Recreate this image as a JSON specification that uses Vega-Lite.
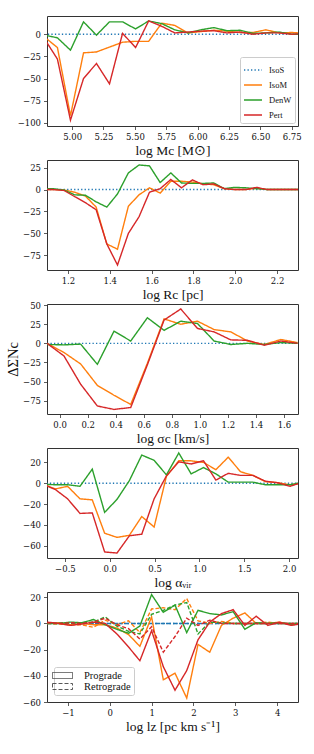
{
"$schema": "https://vega.github.io/schema/vega-lite/v6.json",
"padding": {"left": 5, "top": 15, "right": 5, "bottom": 5},
"background": "white",
"config": {
 "view": {"stroke": "#333333", "strokeWidth": 1},
 "axis": {"grid": false, "domain": false, "tickSize": 3.5, "tickWidth": 0.8, "tickColor": "#333333", "labelFont": "DejaVu Serif", "labelFontSize": 8.5, "labelColor": "#111111", "labelPadding": 3, "labelFlush": false, "labelOverlap": false, "titleFont": "Liberation Serif", "titleFontSize": 13.5, "titleFontWeight": "normal", "titleColor": "#111111", "titlePadding": 2}
},
"datasets": {"d": [
{"p":1,"m":"IsoS","x":4.779,"y":0},{"p":1,"m":"IsoS","x":6.857,"y":0},
{"p":1,"m":"IsoM","x":4.779,"y":-3},{"p":1,"m":"IsoM","x":4.883,"y":-15},{"p":1,"m":"IsoM","x":4.987,"y":-92},{"p":1,"m":"IsoM","x":5.091,"y":-21},{"p":1,"m":"IsoM","x":5.194,"y":-20},{"p":1,"m":"IsoM","x":5.298,"y":-14.5},{"p":1,"m":"IsoM","x":5.402,"y":-9},{"p":1,"m":"IsoM","x":5.506,"y":-8},{"p":1,"m":"IsoM","x":5.61,"y":-8},{"p":1,"m":"IsoM","x":5.714,"y":12.5},{"p":1,"m":"IsoM","x":5.818,"y":10},{"p":1,"m":"IsoM","x":5.922,"y":1.5},{"p":1,"m":"IsoM","x":6.026,"y":3},{"p":1,"m":"IsoM","x":6.13,"y":4.5},{"p":1,"m":"IsoM","x":6.233,"y":3.5},{"p":1,"m":"IsoM","x":6.337,"y":2},{"p":1,"m":"IsoM","x":6.441,"y":2},{"p":1,"m":"IsoM","x":6.545,"y":5},{"p":1,"m":"IsoM","x":6.649,"y":1.5},{"p":1,"m":"IsoM","x":6.753,"y":2},{"p":1,"m":"IsoM","x":6.857,"y":1},
{"p":1,"m":"DenW","x":4.779,"y":-1},{"p":1,"m":"DenW","x":4.883,"y":-4},{"p":1,"m":"DenW","x":4.987,"y":-18},{"p":1,"m":"DenW","x":5.091,"y":14},{"p":1,"m":"DenW","x":5.194,"y":-1},{"p":1,"m":"DenW","x":5.298,"y":14},{"p":1,"m":"DenW","x":5.402,"y":14},{"p":1,"m":"DenW","x":5.506,"y":6},{"p":1,"m":"DenW","x":5.61,"y":15},{"p":1,"m":"DenW","x":5.714,"y":12},{"p":1,"m":"DenW","x":5.818,"y":5},{"p":1,"m":"DenW","x":5.922,"y":1.5},{"p":1,"m":"DenW","x":6.026,"y":5},{"p":1,"m":"DenW","x":6.13,"y":7.5},{"p":1,"m":"DenW","x":6.233,"y":4},{"p":1,"m":"DenW","x":6.337,"y":4.5},{"p":1,"m":"DenW","x":6.441,"y":1},{"p":1,"m":"DenW","x":6.545,"y":1.5},{"p":1,"m":"DenW","x":6.649,"y":2.5},{"p":1,"m":"DenW","x":6.753,"y":0},{"p":1,"m":"DenW","x":6.857,"y":0},
{"p":1,"m":"Pert","x":4.779,"y":-5},{"p":1,"m":"Pert","x":4.883,"y":-28},{"p":1,"m":"Pert","x":4.987,"y":-97},{"p":1,"m":"Pert","x":5.091,"y":-50},{"p":1,"m":"Pert","x":5.194,"y":-33},{"p":1,"m":"Pert","x":5.298,"y":-56},{"p":1,"m":"Pert","x":5.402,"y":1},{"p":1,"m":"Pert","x":5.506,"y":-15},{"p":1,"m":"Pert","x":5.61,"y":15},{"p":1,"m":"Pert","x":5.714,"y":9},{"p":1,"m":"Pert","x":5.818,"y":1.5},{"p":1,"m":"Pert","x":5.922,"y":2.5},{"p":1,"m":"Pert","x":6.026,"y":3.5},{"p":1,"m":"Pert","x":6.13,"y":4},{"p":1,"m":"Pert","x":6.233,"y":1.5},{"p":1,"m":"Pert","x":6.337,"y":2.5},{"p":1,"m":"Pert","x":6.441,"y":0},{"p":1,"m":"Pert","x":6.545,"y":1.5},{"p":1,"m":"Pert","x":6.649,"y":1.5},{"p":1,"m":"Pert","x":6.753,"y":0},{"p":1,"m":"Pert","x":6.857,"y":1},
{"p":2,"m":"IsoS","x":1.079,"y":0},{"p":2,"m":"IsoS","x":2.305,"y":0},
{"p":2,"m":"IsoM","x":1.079,"y":0},{"p":2,"m":"IsoM","x":1.13,"y":0},{"p":2,"m":"IsoM","x":1.181,"y":-0.5},{"p":2,"m":"IsoM","x":1.232,"y":-3},{"p":2,"m":"IsoM","x":1.284,"y":-7.5},{"p":2,"m":"IsoM","x":1.335,"y":-20},{"p":2,"m":"IsoM","x":1.386,"y":-62},{"p":2,"m":"IsoM","x":1.437,"y":-68},{"p":2,"m":"IsoM","x":1.489,"y":-19},{"p":2,"m":"IsoM","x":1.54,"y":-6},{"p":2,"m":"IsoM","x":1.59,"y":2},{"p":2,"m":"IsoM","x":1.641,"y":-4},{"p":2,"m":"IsoM","x":1.692,"y":9.5},{"p":2,"m":"IsoM","x":1.743,"y":9.5},{"p":2,"m":"IsoM","x":1.795,"y":8.5},{"p":2,"m":"IsoM","x":1.846,"y":6.5},{"p":2,"m":"IsoM","x":1.897,"y":5.5},{"p":2,"m":"IsoM","x":1.948,"y":1},{"p":2,"m":"IsoM","x":1.998,"y":0},{"p":2,"m":"IsoM","x":2.051,"y":0},{"p":2,"m":"IsoM","x":2.102,"y":1.5},{"p":2,"m":"IsoM","x":2.152,"y":0},{"p":2,"m":"IsoM","x":2.203,"y":0},{"p":2,"m":"IsoM","x":2.254,"y":0},{"p":2,"m":"IsoM","x":2.305,"y":0},
{"p":2,"m":"DenW","x":1.079,"y":1},{"p":2,"m":"DenW","x":1.13,"y":1},{"p":2,"m":"DenW","x":1.181,"y":-0.5},{"p":2,"m":"DenW","x":1.232,"y":-6},{"p":2,"m":"DenW","x":1.284,"y":-6.5},{"p":2,"m":"DenW","x":1.335,"y":-14},{"p":2,"m":"DenW","x":1.386,"y":-20},{"p":2,"m":"DenW","x":1.437,"y":-5},{"p":2,"m":"DenW","x":1.489,"y":19},{"p":2,"m":"DenW","x":1.54,"y":28},{"p":2,"m":"DenW","x":1.59,"y":27},{"p":2,"m":"DenW","x":1.641,"y":8},{"p":2,"m":"DenW","x":1.692,"y":19},{"p":2,"m":"DenW","x":1.743,"y":7.5},{"p":2,"m":"DenW","x":1.795,"y":7},{"p":2,"m":"DenW","x":1.846,"y":7},{"p":2,"m":"DenW","x":1.897,"y":7.5},{"p":2,"m":"DenW","x":1.948,"y":1},{"p":2,"m":"DenW","x":1.998,"y":2.5},{"p":2,"m":"DenW","x":2.051,"y":2},{"p":2,"m":"DenW","x":2.102,"y":1},{"p":2,"m":"DenW","x":2.152,"y":0},{"p":2,"m":"DenW","x":2.203,"y":0},{"p":2,"m":"DenW","x":2.254,"y":0},{"p":2,"m":"DenW","x":2.305,"y":0},
{"p":2,"m":"Pert","x":1.079,"y":0},{"p":2,"m":"Pert","x":1.13,"y":0},{"p":2,"m":"Pert","x":1.181,"y":-1},{"p":2,"m":"Pert","x":1.232,"y":-8},{"p":2,"m":"Pert","x":1.284,"y":-15},{"p":2,"m":"Pert","x":1.335,"y":-23},{"p":2,"m":"Pert","x":1.386,"y":-62},{"p":2,"m":"Pert","x":1.437,"y":-86},{"p":2,"m":"Pert","x":1.489,"y":-50},{"p":2,"m":"Pert","x":1.54,"y":-31},{"p":2,"m":"Pert","x":1.59,"y":-3},{"p":2,"m":"Pert","x":1.641,"y":1},{"p":2,"m":"Pert","x":1.692,"y":11.5},{"p":2,"m":"Pert","x":1.743,"y":2},{"p":2,"m":"Pert","x":1.795,"y":11},{"p":2,"m":"Pert","x":1.846,"y":5.5},{"p":2,"m":"Pert","x":1.897,"y":6.5},{"p":2,"m":"Pert","x":1.948,"y":1},{"p":2,"m":"Pert","x":1.998,"y":0},{"p":2,"m":"Pert","x":2.051,"y":0},{"p":2,"m":"Pert","x":2.102,"y":2.5},{"p":2,"m":"Pert","x":2.152,"y":0},{"p":2,"m":"Pert","x":2.203,"y":0},{"p":2,"m":"Pert","x":2.254,"y":0},{"p":2,"m":"Pert","x":2.305,"y":0},
{"p":3,"m":"IsoS","x":-0.09,"y":0},{"p":3,"m":"IsoS","x":1.697,"y":0},
{"p":3,"m":"IsoM","x":-0.09,"y":0},{"p":3,"m":"IsoM","x":0.031,"y":-12},{"p":3,"m":"IsoM","x":0.15,"y":-27},{"p":3,"m":"IsoM","x":0.269,"y":-55},{"p":3,"m":"IsoM","x":0.388,"y":-68},{"p":3,"m":"IsoM","x":0.507,"y":-80},{"p":3,"m":"IsoM","x":0.626,"y":-26},{"p":3,"m":"IsoM","x":0.745,"y":32},{"p":3,"m":"IsoM","x":0.864,"y":25},{"p":3,"m":"IsoM","x":0.983,"y":29},{"p":3,"m":"IsoM","x":1.102,"y":18},{"p":3,"m":"IsoM","x":1.221,"y":15},{"p":3,"m":"IsoM","x":1.34,"y":3},{"p":3,"m":"IsoM","x":1.459,"y":-1.5},{"p":3,"m":"IsoM","x":1.578,"y":5},{"p":3,"m":"IsoM","x":1.697,"y":1},
{"p":3,"m":"DenW","x":-0.09,"y":-1.5},{"p":3,"m":"DenW","x":0.031,"y":-2},{"p":3,"m":"DenW","x":0.15,"y":-1},{"p":3,"m":"DenW","x":0.269,"y":-27.5},{"p":3,"m":"DenW","x":0.388,"y":16},{"p":3,"m":"DenW","x":0.507,"y":3},{"p":3,"m":"DenW","x":0.626,"y":33.5},{"p":3,"m":"DenW","x":0.745,"y":17},{"p":3,"m":"DenW","x":0.864,"y":29},{"p":3,"m":"DenW","x":0.983,"y":26},{"p":3,"m":"DenW","x":1.102,"y":3},{"p":3,"m":"DenW","x":1.221,"y":-1.5},{"p":3,"m":"DenW","x":1.34,"y":0},{"p":3,"m":"DenW","x":1.459,"y":-1.5},{"p":3,"m":"DenW","x":1.578,"y":1},{"p":3,"m":"DenW","x":1.697,"y":0},
{"p":3,"m":"Pert","x":-0.09,"y":0},{"p":3,"m":"Pert","x":0.031,"y":-16.5},{"p":3,"m":"Pert","x":0.15,"y":-53.5},{"p":3,"m":"Pert","x":0.269,"y":-82},{"p":3,"m":"Pert","x":0.388,"y":-86.5},{"p":3,"m":"Pert","x":0.507,"y":-84},{"p":3,"m":"Pert","x":0.626,"y":-28},{"p":3,"m":"Pert","x":0.745,"y":30.5},{"p":3,"m":"Pert","x":0.864,"y":45},{"p":3,"m":"Pert","x":0.983,"y":19.5},{"p":3,"m":"Pert","x":1.102,"y":15},{"p":3,"m":"Pert","x":1.221,"y":4.5},{"p":3,"m":"Pert","x":1.34,"y":4},{"p":3,"m":"Pert","x":1.459,"y":-2.5},{"p":3,"m":"Pert","x":1.578,"y":3},{"p":3,"m":"Pert","x":1.697,"y":0},
{"p":4,"m":"IsoS","x":-0.746,"y":0},{"p":4,"m":"IsoS","x":2.149,"y":0},
{"p":4,"m":"IsoM","x":-0.746,"y":-1},{"p":4,"m":"IsoM","x":-0.608,"y":-5.5},{"p":4,"m":"IsoM","x":-0.47,"y":-3},{"p":4,"m":"IsoM","x":-0.332,"y":-15},{"p":4,"m":"IsoM","x":-0.195,"y":-16},{"p":4,"m":"IsoM","x":-0.057,"y":-48},{"p":4,"m":"IsoM","x":0.081,"y":-52},{"p":4,"m":"IsoM","x":0.219,"y":-50},{"p":4,"m":"IsoM","x":0.357,"y":-32},{"p":4,"m":"IsoM","x":0.495,"y":-42},{"p":4,"m":"IsoM","x":0.632,"y":6.5},{"p":4,"m":"IsoM","x":0.77,"y":21.5},{"p":4,"m":"IsoM","x":0.908,"y":21.5},{"p":4,"m":"IsoM","x":1.046,"y":20},{"p":4,"m":"IsoM","x":1.184,"y":13},{"p":4,"m":"IsoM","x":1.322,"y":25},{"p":4,"m":"IsoM","x":1.459,"y":11},{"p":4,"m":"IsoM","x":1.597,"y":7.5},{"p":4,"m":"IsoM","x":1.735,"y":1.5},{"p":4,"m":"IsoM","x":1.873,"y":0.5},{"p":4,"m":"IsoM","x":2.011,"y":-1.5},{"p":4,"m":"IsoM","x":2.149,"y":0},
{"p":4,"m":"DenW","x":-0.746,"y":-1},{"p":4,"m":"DenW","x":-0.608,"y":-1.5},{"p":4,"m":"DenW","x":-0.47,"y":-1.5},{"p":4,"m":"DenW","x":-0.332,"y":-3},{"p":4,"m":"DenW","x":-0.195,"y":13.5},{"p":4,"m":"DenW","x":-0.057,"y":-28},{"p":4,"m":"DenW","x":0.081,"y":-15.5},{"p":4,"m":"DenW","x":0.219,"y":2.5},{"p":4,"m":"DenW","x":0.357,"y":27},{"p":4,"m":"DenW","x":0.495,"y":22},{"p":4,"m":"DenW","x":0.632,"y":8},{"p":4,"m":"DenW","x":0.77,"y":29},{"p":4,"m":"DenW","x":0.908,"y":9},{"p":4,"m":"DenW","x":1.046,"y":15},{"p":4,"m":"DenW","x":1.184,"y":9},{"p":4,"m":"DenW","x":1.322,"y":1},{"p":4,"m":"DenW","x":1.459,"y":1},{"p":4,"m":"DenW","x":1.597,"y":1},{"p":4,"m":"DenW","x":1.735,"y":-1.5},{"p":4,"m":"DenW","x":1.873,"y":-1.5},{"p":4,"m":"DenW","x":2.011,"y":-1.5},{"p":4,"m":"DenW","x":2.149,"y":1},
{"p":4,"m":"Pert","x":-0.746,"y":-1},{"p":4,"m":"Pert","x":-0.608,"y":-6},{"p":4,"m":"Pert","x":-0.47,"y":-15},{"p":4,"m":"Pert","x":-0.332,"y":-29},{"p":4,"m":"Pert","x":-0.195,"y":-28.5},{"p":4,"m":"Pert","x":-0.057,"y":-66},{"p":4,"m":"Pert","x":0.081,"y":-67},{"p":4,"m":"Pert","x":0.219,"y":-50.5},{"p":4,"m":"Pert","x":0.357,"y":-49},{"p":4,"m":"Pert","x":0.495,"y":-15},{"p":4,"m":"Pert","x":0.632,"y":7},{"p":4,"m":"Pert","x":0.77,"y":20.5},{"p":4,"m":"Pert","x":0.908,"y":18.5},{"p":4,"m":"Pert","x":1.046,"y":21.5},{"p":4,"m":"Pert","x":1.184,"y":3},{"p":4,"m":"Pert","x":1.322,"y":9.5},{"p":4,"m":"Pert","x":1.459,"y":7.5},{"p":4,"m":"Pert","x":1.597,"y":7.5},{"p":4,"m":"Pert","x":1.735,"y":2},{"p":4,"m":"Pert","x":1.873,"y":0.5},{"p":4,"m":"Pert","x":2.011,"y":-3},{"p":4,"m":"Pert","x":2.149,"y":1},
{"p":5,"m":"IsoS","d":"Prograde","x":-1.5,"y":0},{"p":5,"m":"IsoS","d":"Prograde","x":4.62,"y":0},
{"p":5,"m":"IsoS","d":"Retrograde","x":-1.5,"y":0},{"p":5,"m":"IsoS","d":"Retrograde","x":4.62,"y":0},
{"p":5,"m":"IsoM","d":"Prograde","x":-1.5,"y":0},{"p":5,"m":"IsoM","d":"Prograde","x":-1.22,"y":0.5},{"p":5,"m":"IsoM","d":"Prograde","x":-0.94,"y":-1},{"p":5,"m":"IsoM","d":"Prograde","x":-0.67,"y":0},{"p":5,"m":"IsoM","d":"Prograde","x":-0.39,"y":-1},{"p":5,"m":"IsoM","d":"Prograde","x":-0.11,"y":-1},{"p":5,"m":"IsoM","d":"Prograde","x":0.17,"y":-3.5},{"p":5,"m":"IsoM","d":"Prograde","x":0.45,"y":-8.5},{"p":5,"m":"IsoM","d":"Prograde","x":0.72,"y":-17.5},{"p":5,"m":"IsoM","d":"Prograde","x":1.0,"y":5},{"p":5,"m":"IsoM","d":"Prograde","x":1.28,"y":-43},{"p":5,"m":"IsoM","d":"Prograde","x":1.56,"y":-38},{"p":5,"m":"IsoM","d":"Prograde","x":1.84,"y":-57},{"p":5,"m":"IsoM","d":"Prograde","x":2.11,"y":-16},{"p":5,"m":"IsoM","d":"Prograde","x":2.39,"y":-22},{"p":5,"m":"IsoM","d":"Prograde","x":2.67,"y":-1.5},{"p":5,"m":"IsoM","d":"Prograde","x":2.95,"y":4},{"p":5,"m":"IsoM","d":"Prograde","x":3.23,"y":8},{"p":5,"m":"IsoM","d":"Prograde","x":3.5,"y":0},{"p":5,"m":"IsoM","d":"Prograde","x":3.78,"y":0},{"p":5,"m":"IsoM","d":"Prograde","x":4.06,"y":1},{"p":5,"m":"IsoM","d":"Prograde","x":4.34,"y":-1},{"p":5,"m":"IsoM","d":"Prograde","x":4.62,"y":0},
{"p":5,"m":"IsoM","d":"Retrograde","x":-1.5,"y":0},{"p":5,"m":"IsoM","d":"Retrograde","x":-1.22,"y":-0.5},{"p":5,"m":"IsoM","d":"Retrograde","x":-0.94,"y":-1},{"p":5,"m":"IsoM","d":"Retrograde","x":-0.67,"y":-1},{"p":5,"m":"IsoM","d":"Retrograde","x":-0.39,"y":-3},{"p":5,"m":"IsoM","d":"Retrograde","x":-0.11,"y":2.5},{"p":5,"m":"IsoM","d":"Retrograde","x":0.17,"y":-1},{"p":5,"m":"IsoM","d":"Retrograde","x":0.45,"y":2},{"p":5,"m":"IsoM","d":"Retrograde","x":0.72,"y":-7},{"p":5,"m":"IsoM","d":"Retrograde","x":1.0,"y":11},{"p":5,"m":"IsoM","d":"Retrograde","x":1.28,"y":12},{"p":5,"m":"IsoM","d":"Retrograde","x":1.56,"y":10.5},{"p":5,"m":"IsoM","d":"Retrograde","x":1.84,"y":19},{"p":5,"m":"IsoM","d":"Retrograde","x":2.11,"y":2},{"p":5,"m":"IsoM","d":"Retrograde","x":2.39,"y":0},{"p":5,"m":"IsoM","d":"Retrograde","x":2.67,"y":1.5},{"p":5,"m":"IsoM","d":"Retrograde","x":2.95,"y":0},{"p":5,"m":"IsoM","d":"Retrograde","x":3.23,"y":0},{"p":5,"m":"IsoM","d":"Retrograde","x":3.5,"y":0},{"p":5,"m":"IsoM","d":"Retrograde","x":3.78,"y":1},{"p":5,"m":"IsoM","d":"Retrograde","x":4.06,"y":0},{"p":5,"m":"IsoM","d":"Retrograde","x":4.34,"y":0},{"p":5,"m":"IsoM","d":"Retrograde","x":4.62,"y":0},
{"p":5,"m":"DenW","d":"Prograde","x":-1.5,"y":0},{"p":5,"m":"DenW","d":"Prograde","x":-1.22,"y":0},{"p":5,"m":"DenW","d":"Prograde","x":-0.94,"y":1},{"p":5,"m":"DenW","d":"Prograde","x":-0.67,"y":0.5},{"p":5,"m":"DenW","d":"Prograde","x":-0.39,"y":3},{"p":5,"m":"DenW","d":"Prograde","x":-0.11,"y":-1},{"p":5,"m":"DenW","d":"Prograde","x":0.17,"y":-4.5},{"p":5,"m":"DenW","d":"Prograde","x":0.45,"y":-7.5},{"p":5,"m":"DenW","d":"Prograde","x":0.72,"y":-2},{"p":5,"m":"DenW","d":"Prograde","x":1.0,"y":22},{"p":5,"m":"DenW","d":"Prograde","x":1.28,"y":8.5},{"p":5,"m":"DenW","d":"Prograde","x":1.56,"y":14},{"p":5,"m":"DenW","d":"Prograde","x":1.84,"y":-7},{"p":5,"m":"DenW","d":"Prograde","x":2.11,"y":10},{"p":5,"m":"DenW","d":"Prograde","x":2.39,"y":7.5},{"p":5,"m":"DenW","d":"Prograde","x":2.67,"y":6.5},{"p":5,"m":"DenW","d":"Prograde","x":2.95,"y":9},{"p":5,"m":"DenW","d":"Prograde","x":3.23,"y":-4.5},{"p":5,"m":"DenW","d":"Prograde","x":3.5,"y":0.5},{"p":5,"m":"DenW","d":"Prograde","x":3.78,"y":0},{"p":5,"m":"DenW","d":"Prograde","x":4.06,"y":0.5},{"p":5,"m":"DenW","d":"Prograde","x":4.34,"y":-0.5},{"p":5,"m":"DenW","d":"Prograde","x":4.62,"y":0},
{"p":5,"m":"DenW","d":"Retrograde","x":-1.5,"y":0.5},{"p":5,"m":"DenW","d":"Retrograde","x":-1.22,"y":0},{"p":5,"m":"DenW","d":"Retrograde","x":-0.94,"y":0.5},{"p":5,"m":"DenW","d":"Retrograde","x":-0.67,"y":0.5},{"p":5,"m":"DenW","d":"Retrograde","x":-0.39,"y":1},{"p":5,"m":"DenW","d":"Retrograde","x":-0.11,"y":5},{"p":5,"m":"DenW","d":"Retrograde","x":0.17,"y":-2},{"p":5,"m":"DenW","d":"Retrograde","x":0.45,"y":-6},{"p":5,"m":"DenW","d":"Retrograde","x":0.72,"y":-8},{"p":5,"m":"DenW","d":"Retrograde","x":1.0,"y":7},{"p":5,"m":"DenW","d":"Retrograde","x":1.28,"y":10},{"p":5,"m":"DenW","d":"Retrograde","x":1.56,"y":14},{"p":5,"m":"DenW","d":"Retrograde","x":1.84,"y":16},{"p":5,"m":"DenW","d":"Retrograde","x":2.11,"y":-8},{"p":5,"m":"DenW","d":"Retrograde","x":2.39,"y":1},{"p":5,"m":"DenW","d":"Retrograde","x":2.67,"y":0.5},{"p":5,"m":"DenW","d":"Retrograde","x":2.95,"y":0},{"p":5,"m":"DenW","d":"Retrograde","x":3.23,"y":0},{"p":5,"m":"DenW","d":"Retrograde","x":3.5,"y":0},{"p":5,"m":"DenW","d":"Retrograde","x":3.78,"y":0},{"p":5,"m":"DenW","d":"Retrograde","x":4.06,"y":0},{"p":5,"m":"DenW","d":"Retrograde","x":4.34,"y":0},{"p":5,"m":"DenW","d":"Retrograde","x":4.62,"y":0},
{"p":5,"m":"Pert","d":"Prograde","x":-1.5,"y":1},{"p":5,"m":"Pert","d":"Prograde","x":-1.22,"y":0},{"p":5,"m":"Pert","d":"Prograde","x":-0.94,"y":-1.5},{"p":5,"m":"Pert","d":"Prograde","x":-0.67,"y":-0.5},{"p":5,"m":"Pert","d":"Prograde","x":-0.39,"y":1},{"p":5,"m":"Pert","d":"Prograde","x":-0.11,"y":0},{"p":5,"m":"Pert","d":"Prograde","x":0.17,"y":-8},{"p":5,"m":"Pert","d":"Prograde","x":0.45,"y":-18},{"p":5,"m":"Pert","d":"Prograde","x":0.72,"y":-28.5},{"p":5,"m":"Pert","d":"Prograde","x":1.0,"y":-5.5},{"p":5,"m":"Pert","d":"Prograde","x":1.28,"y":-33},{"p":5,"m":"Pert","d":"Prograde","x":1.56,"y":-51},{"p":5,"m":"Pert","d":"Prograde","x":1.84,"y":-36},{"p":5,"m":"Pert","d":"Prograde","x":2.11,"y":-12.5},{"p":5,"m":"Pert","d":"Prograde","x":2.39,"y":1},{"p":5,"m":"Pert","d":"Prograde","x":2.67,"y":7.5},{"p":5,"m":"Pert","d":"Prograde","x":2.95,"y":10.5},{"p":5,"m":"Pert","d":"Prograde","x":3.23,"y":-1.5},{"p":5,"m":"Pert","d":"Prograde","x":3.5,"y":5.5},{"p":5,"m":"Pert","d":"Prograde","x":3.78,"y":-1.5},{"p":5,"m":"Pert","d":"Prograde","x":4.06,"y":1},{"p":5,"m":"Pert","d":"Prograde","x":4.34,"y":-1.5},{"p":5,"m":"Pert","d":"Prograde","x":4.62,"y":0},
{"p":5,"m":"Pert","d":"Retrograde","x":-1.5,"y":0.5},{"p":5,"m":"Pert","d":"Retrograde","x":-1.22,"y":0},{"p":5,"m":"Pert","d":"Retrograde","x":-0.94,"y":0.5},{"p":5,"m":"Pert","d":"Retrograde","x":-0.67,"y":0},{"p":5,"m":"Pert","d":"Retrograde","x":-0.39,"y":1},{"p":5,"m":"Pert","d":"Retrograde","x":-0.11,"y":4},{"p":5,"m":"Pert","d":"Retrograde","x":0.17,"y":-1},{"p":5,"m":"Pert","d":"Retrograde","x":0.45,"y":-4},{"p":5,"m":"Pert","d":"Retrograde","x":0.72,"y":-12},{"p":5,"m":"Pert","d":"Retrograde","x":1.0,"y":-2.5},{"p":5,"m":"Pert","d":"Retrograde","x":1.28,"y":-22},{"p":5,"m":"Pert","d":"Retrograde","x":1.56,"y":-10},{"p":5,"m":"Pert","d":"Retrograde","x":1.84,"y":4},{"p":5,"m":"Pert","d":"Retrograde","x":2.11,"y":-1.5},{"p":5,"m":"Pert","d":"Retrograde","x":2.39,"y":2.5},{"p":5,"m":"Pert","d":"Retrograde","x":2.67,"y":0},{"p":5,"m":"Pert","d":"Retrograde","x":2.95,"y":0},{"p":5,"m":"Pert","d":"Retrograde","x":3.23,"y":0},{"p":5,"m":"Pert","d":"Retrograde","x":3.5,"y":0},{"p":5,"m":"Pert","d":"Retrograde","x":3.78,"y":0},{"p":5,"m":"Pert","d":"Retrograde","x":4.06,"y":0},{"p":5,"m":"Pert","d":"Retrograde","x":4.34,"y":0},{"p":5,"m":"Pert","d":"Retrograde","x":4.62,"y":0}
]},
"data": {"name": "d"},
"spacing": 34,
"bounds": "flush",
"resolve": {"scale": {"color": "independent", "strokeDash": "independent"}, "legend": {"color": "independent", "strokeDash": "independent"}},
"vconcat": [
 {"width": 251, "height": 110,
  "transform": [{"filter": "datum.p == 1"}],
  "mark": {"type": "line", "clip": true, "strokeWidth": 1.4},
  "encoding": {
   "x": {"field": "x", "type": "quantitative", "scale": {"domain": [4.8, 6.8], "nice": false, "zero": false}, "axis": {"values": [5, 5.25, 5.5, 5.75, 6, 6.25, 6.5, 6.75], "format": ".2f", "title": "log Mc [M⊙]"}},
   "y": {"field": "y", "type": "quantitative", "scale": {"domain": [-103.6, 20.6], "nice": false, "zero": false}, "axis": {"values": [0, -25, -50, -75, -100], "title": null}},
   "color": {"field": "m", "type": "nominal", "scale": {"domain": ["IsoS", "IsoM", "DenW", "Pert"], "range": ["#1f77b4", "#ff7f0e", "#2ca02c", "#d62728"]},
    "legend": {"title": null, "orient": "bottom-right", "offset": 3.5, "padding": 3, "fillColor": "rgba(255,255,255,0.85)", "strokeColor": "#cccccc", "cornerRadius": 2, "symbolType": "stroke", "symbolSize": 324, "symbolStrokeWidth": 1.5, "labelFont": "Liberation Serif", "labelFontSize": 8.5, "labelColor": "#111111", "rowPadding": -8.2, "labelOffset": 6}},
   "strokeDash": {"field": "m", "type": "nominal", "scale": {"domain": ["IsoS", "IsoM", "DenW", "Pert"], "range": [[1.3, 2.2], [1, 0], [1, 0], [1, 0]]},
    "legend": {"title": null, "orient": "bottom-right", "offset": 3.5, "padding": 3, "fillColor": "rgba(255,255,255,0.85)", "strokeColor": "#cccccc", "cornerRadius": 2, "symbolType": "stroke", "symbolSize": 324, "symbolStrokeWidth": 1.5, "labelFont": "Liberation Serif", "labelFontSize": 8.5, "labelColor": "#111111", "rowPadding": -8.2, "labelOffset": 6}}
  }},
 {"width": 251, "height": 110,
  "transform": [{"filter": "datum.p == 2"}],
  "mark": {"type": "line", "clip": true, "strokeWidth": 1.4},
  "encoding": {
   "x": {"field": "x", "type": "quantitative", "scale": {"domain": [1.1, 2.3], "nice": false, "zero": false}, "axis": {"values": [1.2, 1.4, 1.6, 1.8, 2.0, 2.2], "format": ".1f", "title": "log Rc [pc]"}},
   "y": {"field": "y", "type": "quantitative", "scale": {"domain": [-91.7, 33.7], "nice": false, "zero": false}, "axis": {"values": [25, 0, -25, -50, -75], "title": null}},
   "color": {"field": "m", "type": "nominal", "scale": {"domain": ["IsoS", "IsoM", "DenW", "Pert"], "range": ["#1f77b4", "#ff7f0e", "#2ca02c", "#d62728"]}, "legend": null},
   "strokeDash": {"field": "m", "type": "nominal", "scale": {"domain": ["IsoS", "IsoM", "DenW", "Pert"], "range": [[1.3, 2.2], [1, 0], [1, 0], [1, 0]]}, "legend": null}
  }},
 {"width": 251, "height": 110,
  "transform": [{"filter": "datum.p == 3"}],
  "mark": {"type": "line", "clip": true, "strokeWidth": 1.4},
  "encoding": {
   "x": {"field": "x", "type": "quantitative", "scale": {"domain": [-0.09, 1.7], "nice": false, "zero": false}, "axis": {"values": [0, 0.2, 0.4, 0.6, 0.8, 1.0, 1.2, 1.4, 1.6], "format": ".1f", "title": "log σc [km/s]"}},
   "y": {"field": "y", "type": "quantitative", "scale": {"domain": [-92.5, 51.5], "nice": false, "zero": false}, "axis": {"values": [50, 25, 0, -25, -50, -75], "title": "ΔΣNc", "titleFontSize": 14.5}},
   "color": {"field": "m", "type": "nominal", "scale": {"domain": ["IsoS", "IsoM", "DenW", "Pert"], "range": ["#1f77b4", "#ff7f0e", "#2ca02c", "#d62728"]}, "legend": null},
   "strokeDash": {"field": "m", "type": "nominal", "scale": {"domain": ["IsoS", "IsoM", "DenW", "Pert"], "range": [[1.3, 2.2], [1, 0], [1, 0], [1, 0]]}, "legend": null}
  }},
 {"width": 251, "height": 110,
  "transform": [{"filter": "datum.p == 4"}],
  "mark": {"type": "line", "clip": true, "strokeWidth": 1.4},
  "encoding": {
   "x": {"field": "x", "type": "quantitative", "scale": {"domain": [-0.7, 2.1], "nice": false, "zero": false}, "axis": {"values": [-0.5, 0, 0.5, 1.0, 1.5, 2.0], "format": ".1f", "title": "log αᵥᵢᵣ"}},
   "y": {"field": "y", "type": "quantitative", "scale": {"domain": [-71.8, 33.8], "nice": false, "zero": false}, "axis": {"values": [20, 0, -20, -40, -60], "title": null}},
   "color": {"field": "m", "type": "nominal", "scale": {"domain": ["IsoS", "IsoM", "DenW", "Pert"], "range": ["#1f77b4", "#ff7f0e", "#2ca02c", "#d62728"]}, "legend": null},
   "strokeDash": {"field": "m", "type": "nominal", "scale": {"domain": ["IsoS", "IsoM", "DenW", "Pert"], "range": [[1.3, 2.2], [1, 0], [1, 0], [1, 0]]}, "legend": null}
  }},
 {"width": 251, "height": 110,
  "encoding": {
   "x": {"field": "x", "type": "quantitative", "scale": {"domain": [-1.5, 4.5], "nice": false, "zero": false}, "axis": {"values": [-1, 0, 1, 2, 3, 4], "format": "d", "title": "log lz [pc km s⁻¹]"}},
   "y": {"field": "y", "type": "quantitative", "scale": {"domain": [-60, 24], "nice": false, "zero": false}, "axis": {"values": [20, 0, -20, -40, -60], "title": null}}
  },
  "layer": [
   {"transform": [{"filter": "datum.p == 5 && datum.m == 'IsoS' && datum.d == 'Prograde'"}],
    "mark": {"type": "line", "clip": true, "strokeWidth": 1.4, "color": "#1f77b4", "strokeDash": [1.3, 2.2]}},
   {"transform": [{"filter": "datum.p == 5 && datum.m == 'IsoS' && datum.d == 'Retrograde'"}],
    "mark": {"type": "line", "clip": true, "strokeWidth": 1.4, "color": "#1f77b4", "strokeDash": [4, 2]}},
   {"transform": [{"filter": "datum.p == 5 && datum.m != 'IsoS'"}],
    "mark": {"type": "line", "clip": true, "strokeWidth": 1.4},
    "encoding": {
     "color": {"field": "m", "type": "nominal", "scale": {"domain": ["IsoM", "DenW", "Pert"], "range": ["#ff7f0e", "#2ca02c", "#d62728"]}, "legend": null},
     "strokeDash": {"field": "d", "type": "nominal", "scale": {"domain": ["Prograde", "Retrograde"], "range": [[1, 0], [4, 2]]},
      "legend": {"title": null, "orient": "bottom-left", "offset": 7, "padding": 3, "fillColor": "rgba(255,255,255,0.85)", "strokeColor": "#cccccc", "cornerRadius": 2, "symbolType": "M-2,-0.6H2V0.6H-2Z", "symbolSize": 100, "symbolStrokeColor": "#444444", "symbolFillColor": "transparent", "symbolStrokeWidth": 0.9, "labelFont": "Liberation Serif", "labelFontSize": 10.5, "labelColor": "#111111", "rowPadding": 0, "labelOffset": 16}}
    }}
  ]}
]
}
